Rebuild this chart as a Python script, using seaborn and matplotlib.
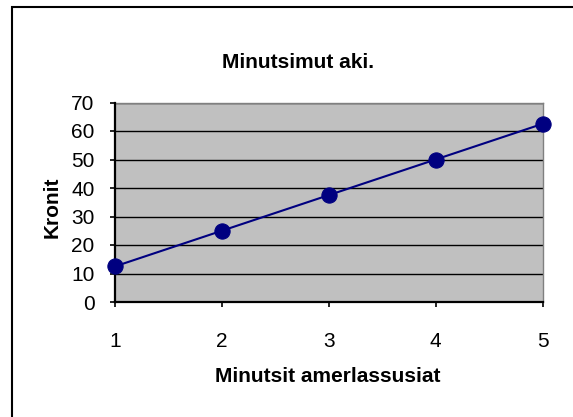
import matplotlib
matplotlib.use("Agg")
import matplotlib.pyplot as plt
from matplotlib.patches import Rectangle
import seaborn as sns

# Data
minutes = [1, 2, 3, 4, 5]
kroner = [12.5, 25, 37.5, 50, 62.5]
y_ticks = [0, 10, 20, 30, 40, 50, 60, 70]
title = "Minutsimut aki."
x_label = "Minutsit amerlassusiat"
y_label = "Kronit"

plt.rcParams["font.family"] = ["Liberation Sans", "DejaVu Sans"]
plt.rcParams["font.size"] = 15

W, H = 573, 417
fig = plt.figure(figsize=(W / 100, H / 100), dpi=100)
fig.patch.set_facecolor("white")

left, right, top, bottom = 115, 542.5, 102.5, 302
ax = fig.add_axes([left / W, 1 - bottom / H, (right - left) / W, (bottom - top) / H])
ax.set_facecolor("#C0C0C0")

sns.lineplot(x=minutes, y=kroner, ax=ax, color="#000080", linewidth=1.5,
             marker="o", markersize=11, markeredgecolor="#000080",
             markerfacecolor="#000080")
for ln in ax.lines:
    ln.set_clip_on(False)
    ln.set_zorder(5)

ax.set_xlim(1, 5)
ax.set_ylim(0, 70)
ax.set_xticks(minutes)
ax.set_xticklabels([str(m) for m in minutes])
ax.set_yticks(y_ticks)
ax.set_yticklabels([str(t) for t in y_ticks])

ax.yaxis.grid(True, color="black", linewidth=1.0)
ax.xaxis.grid(False)
ax.set_axisbelow(True)

for s in ["left", "bottom"]:
    ax.spines[s].set_color("black")
    ax.spines[s].set_linewidth(1.6)
    ax.spines[s].set_zorder(4)
for s in ["top", "right"]:
    ax.spines[s].set_color("#808080")
    ax.spines[s].set_linewidth(1.0)

ax.tick_params(axis="x", direction="out", length=3.6, width=1.2, pad=18,
               labelsize=15, colors="black")
ax.tick_params(axis="y", direction="out", length=3.6, width=1.2, pad=11,
               labelsize=15, colors="black")

ax.set_xlabel("")
ax.set_ylabel("")
fig.text(298 / W, 1 - 62.5 / H, title, ha="center", va="center",
         fontsize=15, fontweight="bold")
fig.text(328 / W, 1 - 376.5 / H, x_label, ha="center", va="center",
         fontsize=15, fontweight="bold")
fig.text(52 / W, 1 - 207.5 / H, y_label, ha="center", va="center",
         fontsize=15, fontweight="bold", rotation=90)

fig.add_artist(Rectangle((11.5 / W, -0.05), 1.0, (H - 6.5) / H + 0.05,
                         transform=fig.transFigure, fill=False,
                         edgecolor="black", linewidth=1.5))

fig.savefig("out.png", dpi=100)
